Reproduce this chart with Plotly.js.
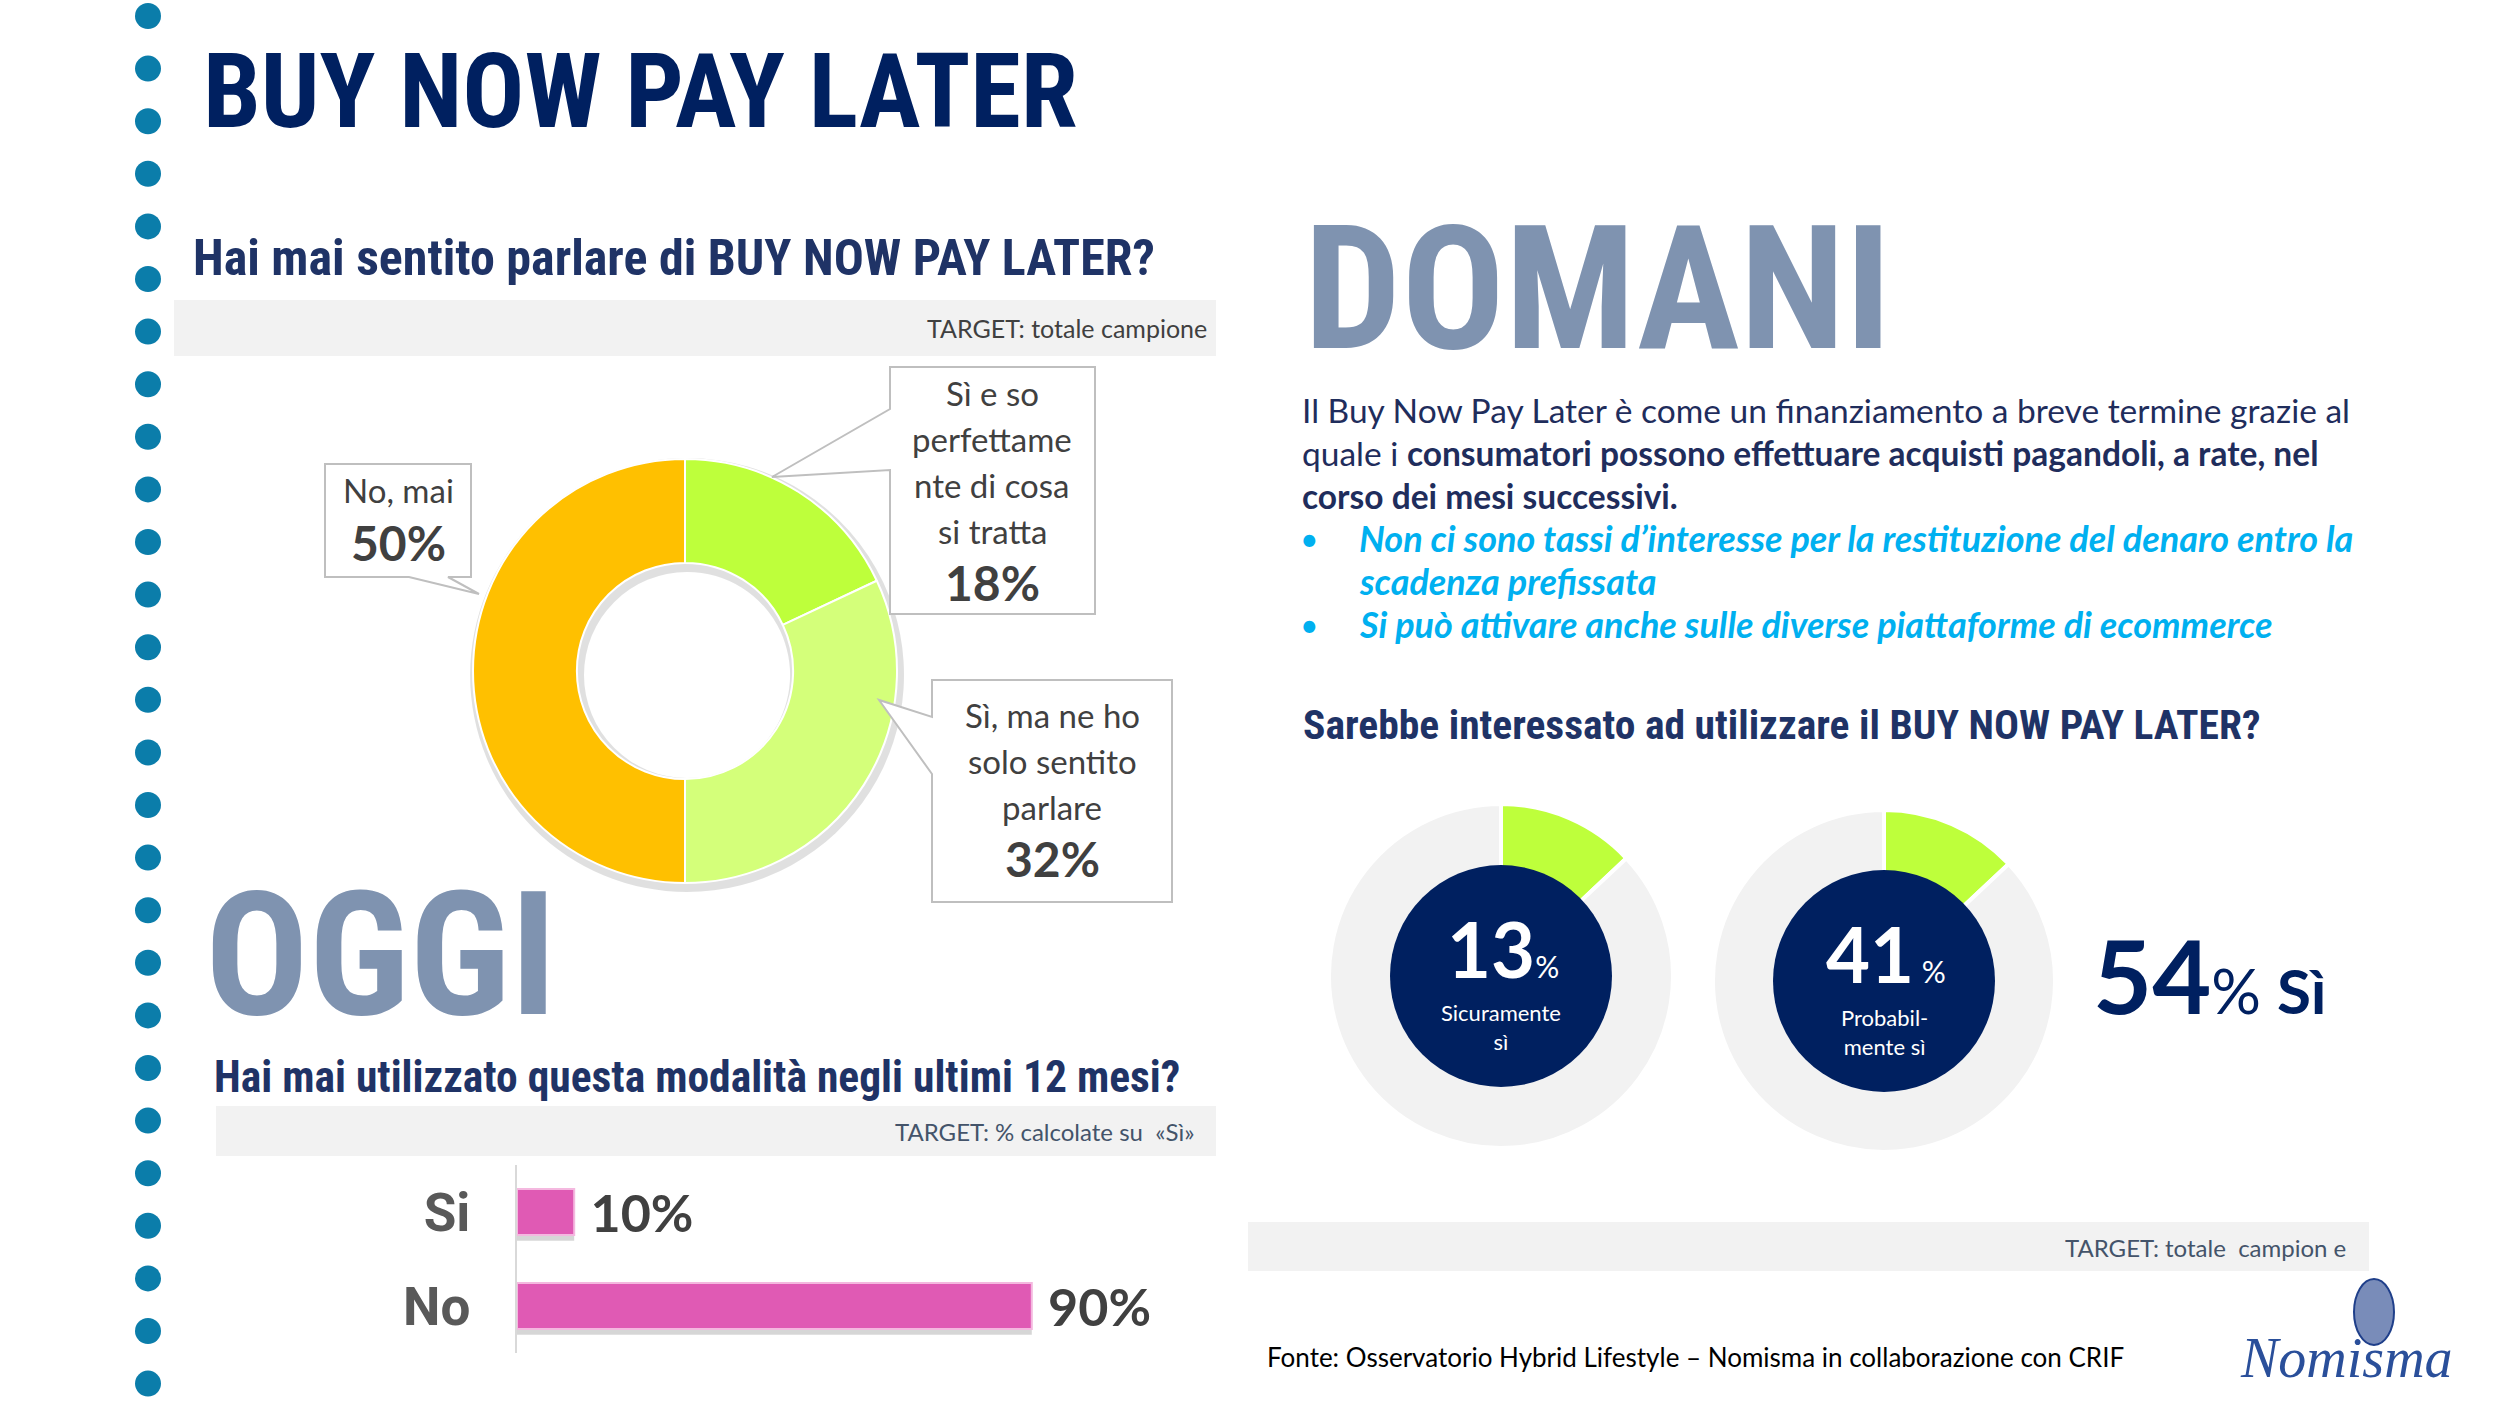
<!DOCTYPE html>
<html><head><meta charset="utf-8">
<script src="https://cdn.plot.ly/plotly-3.0.1.min.js"></script>
<style>html,body{margin:0;padding:0;background:#fff}</style>
</head><body><div id="chart" style="width:2500px;height:1406px"></div>
<script>
// ---------------- DATA ----------------
const awarenessLabels = ['Sì e so perfettamente di cosa si tratta', 'Sì, ma ne ho solo sentito parlare', 'No, mai'];
const awarenessLines = [['Sì e so', 'perfettame', 'nte di cosa', 'si tratta'], ['Sì, ma ne ho', 'solo sentito', 'parlare'], ['No, mai']];
const awarenessValues = [18, 32, 50];
const awarenessColors = ['#BEFF3B', '#D4FF7A', '#FFC000'];

const usageCategories = ['Si', 'No'];
const usageValues = [10, 90];

const intentLabels = ['Sicuramente sì', 'Probabilmente sì'];
const intentCaptions = ['Sicuramente<br>sì', 'Probabil-<br>mente sì'];
const intentValues = [13, 41];
const intentRingShare = [13, 13];   // green arc as drawn in the picture
const intentTotal = 54;

// ---------------- LAYOUT HELPERS ----------------
const W = 2500, H = 1406;
const px = x => x / W, py = y => 1 - y / H;
const NARROW = '"Roboto Condensed", "Open Sans Condensed", "DejaVu Sans Condensed", sans-serif';
const BODY = 'Lato, "Open Sans", sans-serif';
const NAVY = '#002060', HEAD = '#1F3366', SLATE = '#7F93B0';

function dom(cx, cy, r) { return {x: [px(cx - r), px(cx + r)], y: [py(cy + r), py(cy - r)]}; }
function A(x, y, text, font, extra) {
  return Object.assign({xref: 'paper', yref: 'paper', x: px(x), y: py(y), text: text, showarrow: false,
    xanchor: 'left', yanchor: 'middle', borderpad: 0, font: Object.assign({family: BODY, size: 24, color: '#404040'}, font)}, extra || {});
}

const traces = [];
// donut 1 shadow
traces.push({type: 'pie', values: awarenessValues, labels: awarenessLabels, sort: false, direction: 'clockwise',
  hole: 0.475, domain: dom(687, 675, 217), textinfo: 'none', hoverinfo: 'skip',
  marker: {colors: awarenessValues.map(() => 'rgba(0,0,0,0.12)'), line: {width: 0}}});
// donut 1
traces.push({type: 'pie', values: awarenessValues, labels: awarenessLabels, sort: false, direction: 'clockwise',
  hole: 0.51, domain: dom(685, 671, 212), textinfo: 'none',
  marker: {colors: awarenessColors, line: {color: '#FFFFFF', width: 2}}});
// intention rings
const ringGeo = [[1501, 976, 172], [1884, 981, 171]];
intentValues.forEach((v, i) => {
  traces.push({type: 'pie', values: [intentRingShare[i], 100 - intentRingShare[i]], labels: [intentLabels[i], 'altro'],
    sort: false, direction: 'clockwise', hole: 0.6, domain: dom(...ringGeo[i]), textinfo: 'none',
    marker: {colors: ['#BEFF3B', '#F2F2F2'], line: {color: '#FFFFFF', width: 4}}});
});
// bar shadow
traces.push({type: 'bar', orientation: 'h', y: usageCategories, x: usageValues, width: 0.49, offset: -0.245 + 0.06,
  marker: {color: 'rgba(0,0,0,0.16)', line: {width: 0}}, hoverinfo: 'skip', xaxis: 'x', yaxis: 'y'});
// bars
traces.push({type: 'bar', orientation: 'h', y: usageCategories, x: usageValues, width: 0.49,
  marker: {color: '#E05AB4', line: {color: '#F4B8DF', width: 2}},
  texttemplate: '\u00A0<b>%{x}%</b>', textposition: 'outside', cliponaxis: false, constraintext: 'none',
  textfont: {family: BODY, size: 52, color: '#404040'}, xaxis: 'x', yaxis: 'y'});

// ---------------- SHAPES ----------------
const shapes = [];
// dotted column
for (let i = 0; i < 27; i++) {
  const cy = 16 + i * 52.6;
  shapes.push({type: 'circle', xref: 'paper', yref: 'paper', x0: px(135), x1: px(161), y0: py(cy + 13), y1: py(cy - 13),
    fillcolor: '#0B7DAA', line: {width: 0}, layer: 'below'});
}
// grey bands
[[174, 300, 1216, 356], [216, 1106, 1216, 1156], [1248, 1222, 2369, 1271]].forEach(b => {
  shapes.push({type: 'rect', xref: 'paper', yref: 'paper', x0: px(b[0]), x1: px(b[2]), y0: py(b[3]), y1: py(b[1]),
    fillcolor: '#F2F2F2', line: {width: 0}, layer: 'below'});
});
// callouts
function P(x, y) { return px(x) + ',' + py(y); }
const boxes = [
  {x0: 890, y0: 367, x1: 1095, y1: 614, side: 'left', a: 409, b: 470, tip: [772, 477], cx: 992, ly: 393, step: 46, pct: 582},
  {x0: 932, y0: 680, x1: 1172, y1: 902, side: 'left', a: 717, b: 774, tip: [879, 700], cx: 1052, ly: 715, step: 46, pct: 858},
  {x0: 325, y0: 464, x1: 471, y1: 577, side: 'bottom', a: 409, b: 448, tip: [479, 594], cx: 398, ly: 490, step: 46, pct: 542}
];
boxes.forEach(bx => {
  let d;
  if (bx.side === 'left') {
    d = 'M' + P(bx.x0, bx.y0) + 'L' + P(bx.x1, bx.y0) + 'L' + P(bx.x1, bx.y1) + 'L' + P(bx.x0, bx.y1) +
        'L' + P(bx.x0, bx.b) + 'L' + P(bx.tip[0], bx.tip[1]) + 'L' + P(bx.x0, bx.a) + 'Z';
  } else {
    d = 'M' + P(bx.x0, bx.y0) + 'L' + P(bx.x1, bx.y0) + 'L' + P(bx.x1, bx.y1) + 'L' + P(bx.b, bx.y1) +
        'L' + P(bx.tip[0], bx.tip[1]) + 'L' + P(bx.a, bx.y1) + 'L' + P(bx.x0, bx.y1) + 'Z';
  }
  shapes.push({type: 'path', xref: 'paper', yref: 'paper', path: d, fillcolor: '#FFFFFF',
    line: {color: '#BFBFBF', width: 2}, layer: 'above'});
});
// navy centres of the intention rings
ringGeo.forEach(g => {
  const r = 111;
  shapes.push({type: 'circle', xref: 'paper', yref: 'paper', x0: px(g[0] - r), x1: px(g[0] + r), y0: py(g[1] + r), y1: py(g[1] - r),
    fillcolor: NAVY, line: {width: 0}, layer: 'above'});
});
// logo emblem
shapes.push({type: 'circle', xref: 'paper', yref: 'paper', x0: px(2354), x1: px(2394), y0: py(1345), y1: py(1279),
  fillcolor: 'rgba(31,63,138,0.6)', line: {color: '#1F3F8A', width: 2}, layer: 'above'});

// ---------------- ANNOTATIONS ----------------
const ann = [];
ann.push(A(202, 92, '<b>BUY NOW PAY LATER</b>', {family: NARROW, size: 103, color: NAVY}));
ann.push(A(192, 258, '<b>Hai mai sentito parlare di BUY NOW PAY LATER?</b>', {family: NARROW, size: 50, color: HEAD}));
ann.push(A(1208, 328, 'TARGET: totale campione', {size: 25, color: '#404040'}, {xanchor: 'right'}));
ann.push(A(204, 955, '<b>OGGI</b>', {family: NARROW, size: 172, color: SLATE}));
ann.push(A(213, 1077, '<b>Hai mai utilizzato questa modalità negli ultimi 12 mesi?</b>', {family: NARROW, size: 43.5, color: HEAD}));
ann.push(A(1195, 1131, 'TARGET: % calcolate su  «Sì»', {size: 24, color: '#44546A'}, {xanchor: 'right'}));
ann.push(A(1303, 289, '<b>DOMANI</b>', {family: NARROW, size: 172, color: SLATE}));

const PCOL = '#1F2D5C';
ann.push(A(1301, 410, 'Il Buy Now Pay Later è come un finanziamento a breve termine grazie al', {size: 33.5, color: PCOL}));
ann.push(A(1301, 453, 'quale i <b>consumatori possono effettuare acquisti pagandoli, a rate, nel</b>', {size: 33.5, color: PCOL}));
ann.push(A(1301, 496, '<b>corso dei mesi successivi.</b>', {size: 33.5, color: PCOL}));
const BLUE = '#00B0F0';
[[538, '•'], [624, '•']].forEach(b => ann.push(A(1299, b[0], b[1], {size: 32, color: BLUE})));
const BUL = {size: 36, color: BLUE, style: 'italic', weight: 'bold'};
ann.push(A(1358, 538, 'Non ci sono tassi d’interesse per la restituzione del denaro entro la', BUL));
ann.push(A(1358, 581, 'scadenza prefissata', BUL));
ann.push(A(1358, 624, 'Si può attivare anche sulle diverse piattaforme di ecommerce', BUL));
ann.push(A(1302, 724, '<b>Sarebbe interessato ad utilizzare il BUY NOW PAY LATER?</b>', {family: NARROW, size: 41.5, color: HEAD}));

ann.push(A(2347, 1247, 'TARGET: totale  campion e', {size: 24, color: '#44546A'}, {xanchor: 'right'}));
ann.push(A(1266, 1357, 'Fonte: Osservatorio Hybrid Lifestyle – Nomisma in collaborazione con CRIF', {size: 26, color: '#000000'}));
ann.push(A(2346, 1358, 'Nomisma', {family: '"Liberation Serif", "DejaVu Serif", serif', size: 56, color: '#2A4F9A', style: 'italic'}, {xanchor: 'center'}));

// callout texts
[0, 1, 2].forEach(i => {
  const bx = boxes[i];
  awarenessLines[i].forEach((line, k) => {
    ann.push(A(bx.cx, bx.ly + k * bx.step, line, {size: 33, color: '#404040'}, {xanchor: 'center'}));
  });
  ann.push(A(bx.cx, bx.pct, '<b>' + awarenessValues[i] + '%</b>', {size: 48, color: '#404040'}, {xanchor: 'center'}));
});

// intention ring texts
intentValues.forEach((v, i) => {
  const g = ringGeo[i];
  ann.push(A(g[0] + 2, g[1] - 28, '<b>' + v + '</b><span style="font-size:30px">' + (i === 1 ? ' ' : '') + '%</span>',
    {size: 76, color: '#FFFFFF'}, {xanchor: 'center'}));
  ann.push(A(g[0], g[1] + 51, intentCaptions[i], {size: 22, color: '#FFFFFF'}, {xanchor: 'center'}));
});
ann.push(A(2092, 974, '<b>' + intentTotal + '</b><span style="font-size:62px">% <b>Sì</b></span>', {size: 102, color: NAVY}));

const layout = {
  width: W, height: H, margin: {l: 0, r: 0, t: 0, b: 0}, paper_bgcolor: '#FFFFFF', plot_bgcolor: 'rgba(0,0,0,0)',
  showlegend: false, barmode: 'overlay',
  xaxis: {domain: [px(517), px(1089)], range: [0, 100], visible: false, fixedrange: true},
  yaxis: {domain: [py(1353), py(1165)], type: 'category', categoryorder: 'array', categoryarray: usageCategories,
    range: [1.5, -0.5], showline: true, linecolor: '#D9D9D9', linewidth: 2, ticks: '', showgrid: false, zeroline: false,
    ticklabelstandoff: 34, tickfont: {family: 'Roboto, sans-serif', size: 53, color: '#595959', weight: 'bold'}, fixedrange: true},
  shapes: shapes, annotations: ann
};
Plotly.newPlot('chart', traces, layout, {displayModeBar: false, staticPlot: true});
</script></body></html>
